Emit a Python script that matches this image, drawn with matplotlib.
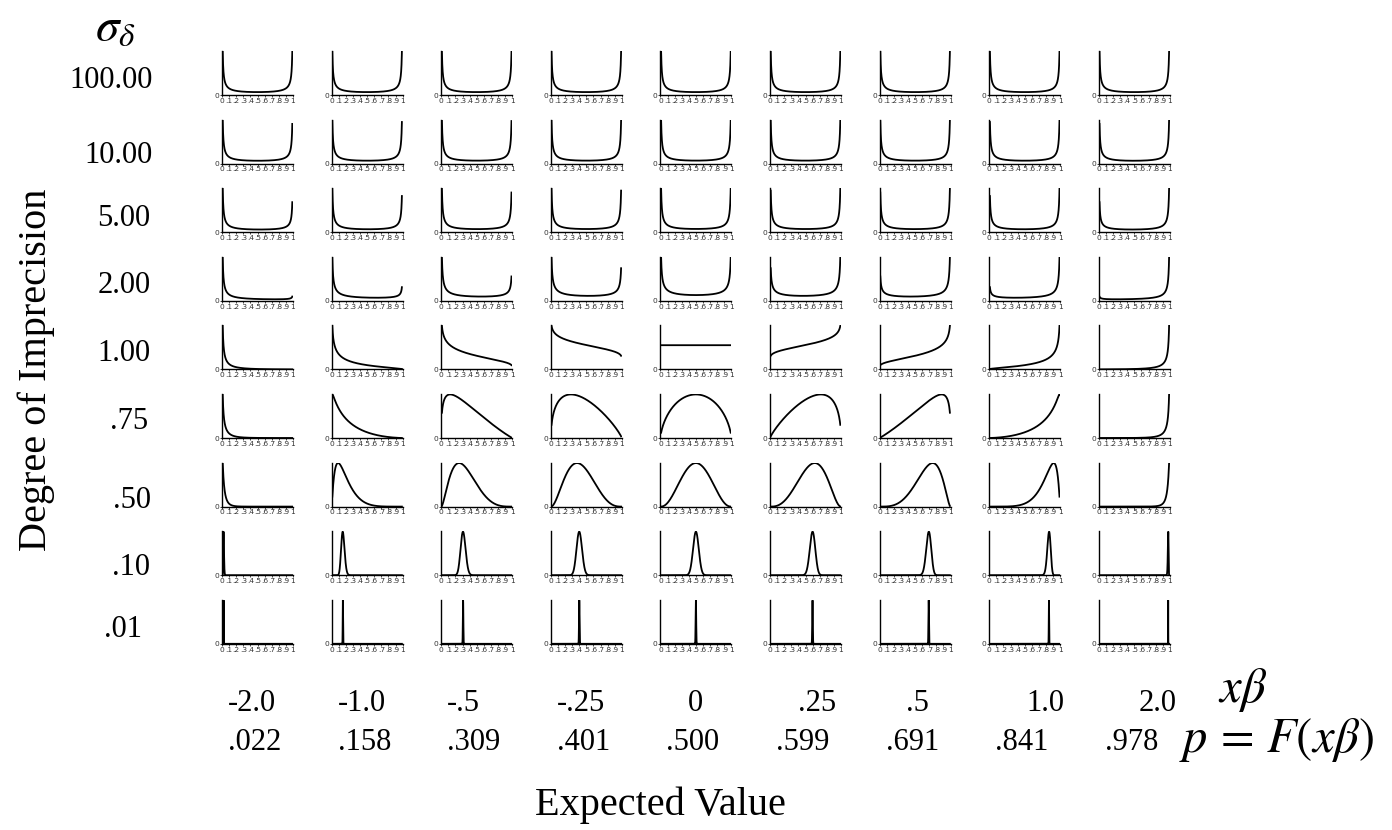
import math

import matplotlib
matplotlib.use("Agg")
import matplotlib.pyplot as plt
import numpy as np

# Rows: degree of imprecision (sd of delta); columns: x*beta and p = F(x*beta)
SIGMA_VALUES = [100.0, 10.0, 5.0, 2.0, 1.0, 0.75, 0.50, 0.10, 0.01]
SIGMA_LABELS = ["100.00", "10.00", "5.00", "2.00", "1.00", ".75", ".50", ".10", ".01"]
XB_VALUES = [-2.0, -1.0, -0.5, -0.25, 0.0, 0.25, 0.5, 1.0, 2.0]
XB_LABELS = ["-2.0", "-1.0", "-.5", "-.25", "0", ".25", ".5", "1.0", "2.0"]
P_LABELS = [".022", ".158", ".309", ".401", ".500", ".599", ".691", ".841", ".978"]
X_TICKS = [0, .1, .2, .3, .4, .5, .6, .7, .8, .9, 1]
X_TICK_LABELS = ["0", ".1", ".2", ".3", ".4", ".5", ".6", ".7", ".8", ".9", "1"]

plt.rcParams["font.family"] = ["Liberation Serif", "DejaVu Serif"]
plt.rcParams["mathtext.fontset"] = "stix"

W, H = 1392, 830
fig = plt.figure(figsize=(W / 100, H / 100), dpi=100)


def px(x, y):
    return x / W, 1 - y / H


def probit_normal_density(mu, sigma):
    # density of p = F(z), z ~ N(mu, sigma), evaluated for p in [.01, .99]
    z = np.linspace(-2.3263, 2.3263, 6001)
    p = 0.5 * (1 + np.array([math.erf(v / math.sqrt(2)) for v in z]))
    log_f = -np.log(sigma) - 0.5 * ((z - mu) / sigma) ** 2 + 0.5 * z ** 2
    return p, np.exp(log_f)


LEFT0, DX = 222, 109.6
BASE0, DY = 95, 68.6
PW, PH = 71, 44
TICK_FONT = dict(fontsize=5.4, family="DejaVu Sans", color="#333333")
# row label placement (pixel offsets from each row's baseline / right edge)
LABEL_DY = [-15, -8, -14, -15, -16, -17, -6, -8, -14]
LABEL_RIGHT = [153, 153, 150, 151, 151, 148, 151, 150, 142]

for r, (sigma, slab) in enumerate(zip(SIGMA_VALUES, SIGMA_LABELS)):
    base = BASE0 + DY * r
    for c, mu in enumerate(XB_VALUES):
        left = LEFT0 + DX * c
        ax = fig.add_axes([*px(left, base), PW / W, PH / H])
        p, f = probit_normal_density(mu, sigma)
        ax.plot(p, f, color="black", linewidth=1.3)
        ax.set_xlim(0, 1)
        top = f.max() if np.ptp(f) > 1e-6 * f.max() else 1.8 * f.max()
        ax.set_ylim(0, top * 1.01)
        ax.set_xticks(X_TICKS)
        ax.set_xticklabels(X_TICK_LABELS, **TICK_FONT)
        ax.set_yticks([0])
        ax.set_yticklabels(["0"], **TICK_FONT)
        ax.tick_params(length=1.5, width=0.5, pad=0.5)
        for side in ("top", "right"):
            ax.spines[side].set_visible(False)
        for side in ("left", "bottom"):
            ax.spines[side].set_linewidth(1.0)
        ax.patch.set_alpha(0)
    fig.text(*px(LABEL_RIGHT[r], base + LABEL_DY[r]), slab, fontsize=22,
             ha="right", va="center")

# bottom column labels
XB_DX = [0, 0, 0, 0, 21, 22, 20, 31, 34]
for c, (xl, pl) in enumerate(zip(XB_LABELS, P_LABELS)):
    left = LEFT0 + DX * c + 6
    fig.text(*px(left + XB_DX[c], 703), xl, fontsize=22, ha="left", va="center")
    fig.text(*px(left, 742), pl, fontsize=22, ha="left", va="center")

fig.text(*px(115, 28), r"$\sigma_{\delta}$", fontsize=34, ha="center", va="center")
fig.text(*px(1243, 690), r"$x\beta$", fontsize=35, ha="center", va="center")
fig.text(*px(1277, 740), r"$p\,=\,F(x\beta)$", fontsize=35, ha="center", va="center")
fig.text(*px(660, 805), "Expected Value", fontsize=29, ha="center", va="center")
fig.text(*px(36, 370), "Degree of Imprecision", fontsize=29, ha="center", va="center",
         rotation=90)

fig.savefig("out.png", dpi=100)
